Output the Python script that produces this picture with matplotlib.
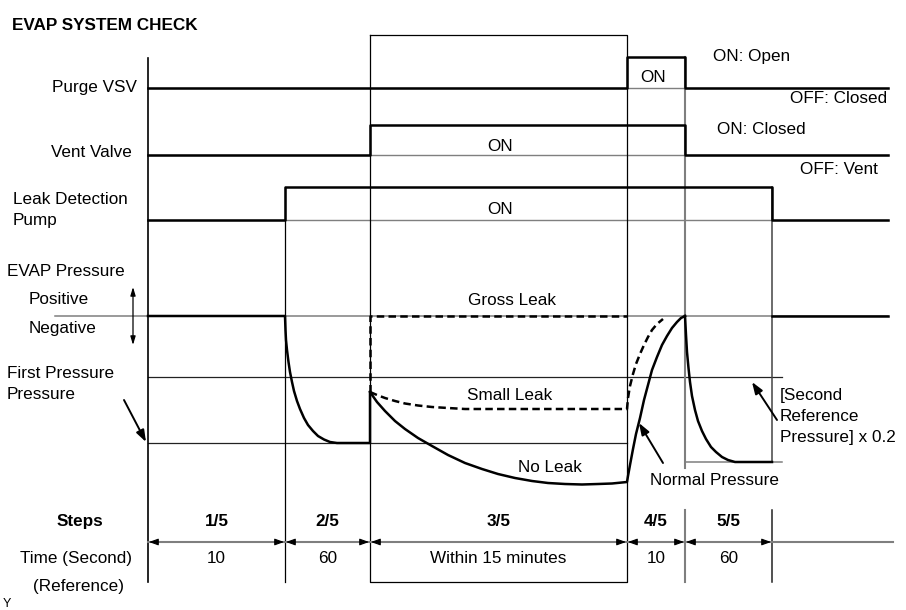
import matplotlib
matplotlib.use('Agg')
import matplotlib.pyplot as plt
from matplotlib import font_manager

# Diagram is laid out in page units (1 unit = 1 px of the 906x610 sheet, y downwards)

# step boundaries along the time axis, and what each step is
step_edges = [148, 285, 370, 627, 685, 772]
step_names = ['1/5', '2/5', '3/5', '4/5', '5/5']
step_times = ['10', '60', 'Within 15 minutes', '10', '60']
trace_end = 888

# ON/OFF state of each valve per step (+ the trailing segment after step 5)
purge_state = [0, 0, 0, 1, 0, 0]
vent_state = [0, 0, 1, 1, 0, 0]
pump_state = [0, 1, 1, 1, 1, 0]

# (OFF level, ON level) of each row
purge_levels = (88, 57)
vent_levels = (155, 125)
pump_levels = (220, 187)

# pressure levels
p_atm = 316          # positive / negative border
p_first = 377        # first reference line
p_ref = 443          # reference pressure
p_second = 462       # second reference x 0.2

# pressure traces
step2_x = [148, 285, 285, 285.5, 286, 287, 288.5, 290, 292, 294, 297, 300, 304,
           308, 313, 318, 324, 330, 337, 370, 370]
step2_y = [316, 316, 316, 330, 340, 350, 362, 372, 382, 391, 401, 409, 418,
           425, 431, 436, 439.5, 442, 443, 443, 392]

noleak_x = [370, 377, 385, 395, 405, 418, 432, 448, 465, 482, 498, 515, 532,
            548, 565, 582, 598, 612, 627,
            628, 630, 633, 636, 640, 644, 648, 652, 657, 662, 667, 672, 677,
            681, 685]
noleak_y = [392, 402, 411, 421, 429, 438, 446, 455, 463, 469, 474, 478, 481,
            483, 484, 484.5, 484, 483.5, 482,
            476, 465, 449, 434, 418, 400, 385, 370, 357, 345, 336, 328, 322,
            318, 316]

step5_x = [685, 686, 687, 688.5, 690, 692, 695, 698, 702, 706, 711, 716, 722,
           728, 735, 772]
step5_y = [316, 335, 352, 368, 382, 396, 410, 421, 431, 439, 447, 452, 457,
           460, 462, 462]
after_x = [772, 888]
after_y = [316, 316]

smallleak_x = [370, 377, 385, 395, 405, 418, 432, 448, 465, 627,
               628, 630, 633, 636, 640, 644, 648, 652, 657, 663]
smallleak_y = [392, 395, 398, 401, 403.5, 405.5, 407, 408, 409, 409,
               398, 386, 374, 364, 354, 345, 337, 330, 324, 319]

grossleak_x = [370, 370, 627]
grossleak_y = [392, 316, 316]

names = {f.name for f in font_manager.fontManager.ttflist}
FONT = 'Liberation Sans' if 'Liberation Sans' in names else 'DejaVu Sans'
plt.rcParams['font.family'] = FONT
FS = 12.3

fig = plt.figure(figsize=(9.06, 6.10), dpi=100)
ax = fig.add_axes([0, 0, 1, 1])
ax.set_xlim(0, 906)
ax.set_ylim(610, 0)
ax.axis('off')

K = 'black'
G = '#7f7f7f'
THICK = 1.8
THIN = 0.9

# --- grid / reference lines ---
for lv in (purge_levels[0], vent_levels[0], pump_levels[0]):
    ax.plot([step_edges[0], trace_end], [lv, lv], color=G, lw=1.0)
ax.plot([55, trace_end], [p_atm, p_atm], color=G, lw=1.1)
ax.plot([step_edges[0], 782], [p_first, p_first], color='#222', lw=THIN)
ax.plot([step_edges[0], step_edges[3]], [p_ref, p_ref], color='#222', lw=THIN)
ax.plot([step_edges[4], 782], [p_second, p_second], color=G, lw=1.1)

# vertical step lines
ax.plot([148, 148], [58, 582], color=K, lw=1.2)
ax.plot([285, 285], [187, 582], color=K, lw=THIN)
ax.plot([370, 627, 627, 370, 370], [35, 35, 582, 582, 35], color=K, lw=THIN)
ax.plot([685, 685], [57, 468], color=G, lw=1.5)
ax.plot([685, 685], [510, 582], color=G, lw=1.5)
ax.plot([772, 772], [187, 462], color='#444', lw=1.1)
ax.plot([772, 772], [510, 582], color='#222', lw=1.1)

# --- ON/OFF signals ---
xs = step_edges + [trace_end]
for st, (lo, hi) in ((purge_state, purge_levels), (vent_state, vent_levels),
                     (pump_state, pump_levels)):
    ys = [hi if s else lo for s in st]
    ax.step(xs, ys + [ys[-1]], where='post', color=K, lw=THICK)

# --- pressure traces ---
sty = dict(color=K, lw=THICK, solid_joinstyle='round', dash_joinstyle='round')
ax.plot(step2_x, step2_y, **sty)
ax.plot(noleak_x, noleak_y, **sty)
ax.plot(step5_x, step5_y, **sty)
ax.plot(after_x, after_y, **sty)
dash = (0, (3.0, 1.7))
ax.plot(smallleak_x, smallleak_y, linestyle=dash, **sty)
ax.plot(grossleak_x, grossleak_y, linestyle=dash, **sty)

# --- text ---
def txt(x, y, s, ha='left', **kw):
    ax.text(x, y, s, ha=ha, va='baseline', fontsize=kw.pop('fontsize', FS), **kw)

txt(12, 30, 'EVAP SYSTEM CHECK', fontweight='bold')
txt(137, 92, 'Purge VSV', ha='right')
txt(51, 157, 'Vent Valve')
txt(13, 204, 'Leak Detection')
txt(13, 225, 'Pump')
txt(7, 276, 'EVAP Pressure')
txt(29, 304, 'Positive')
txt(29, 333, 'Negative')
txt(7, 378, 'First Pressure')
txt(7, 399, 'Pressure')

txt(653, 82, 'ON', ha='center')
txt(713, 61, 'ON: Open')
txt(887, 103, 'OFF: Closed', ha='right')
txt(717, 134, 'ON: Closed')
txt(878, 174, 'OFF: Vent', ha='right')
txt(500, 151, 'ON', ha='center')
txt(500, 214, 'ON', ha='center')

txt(512, 305, 'Gross Leak', ha='center')
txt(510, 400, 'Small Leak', ha='center')
txt(550, 472, 'No Leak', ha='center')
txt(715, 485, 'Normal Pressure', ha='center')
txt(780, 400, '[Second')
txt(780, 421, 'Reference')
txt(780, 442, 'Pressure] x 0.2')

# annotation arrows
arr = dict(arrowstyle='-|>,head_length=0.7,head_width=0.25', color=K, lw=1.4,
           shrinkA=0, shrinkB=0)
ax.annotate('', xy=(146, 442), xytext=(124, 400), arrowprops=arr)
ax.annotate('', xy=(639, 423), xytext=(663, 463), arrowprops=arr)
ax.annotate('', xy=(752, 382), xytext=(777, 420), arrowprops=arr)
ax.annotate('', xy=(133, 287), xytext=(133, 345),
            arrowprops=dict(arrowstyle='<|-|>,head_length=0.5,head_width=0.15',
                            color=K, lw=0.9, shrinkA=0, shrinkB=0))

# --- steps table ---
row_y = 542
ax.plot([step_edges[0], 893], [row_y, row_y], color=G, lw=1.5)
head = dict(arrowstyle='-|>,head_length=0.55,head_width=0.2', color=K, lw=0.8,
            shrinkA=0, shrinkB=0)
for a, b in zip(step_edges[:-1], step_edges[1:]):
    ax.annotate('', xy=(a + 1, row_y), xytext=(a + 10, row_y), arrowprops=head)
    ax.annotate('', xy=(b - 1, row_y), xytext=(b - 10, row_y), arrowprops=head)

txt(80, 526, 'Steps', ha='center', fontweight='bold')
txt(76, 563, 'Time (Second)', ha='center')
txt(78, 591, '(Reference)', ha='center')
for a, b, n, t in zip(step_edges[:-1], step_edges[1:], step_names, step_times):
    c = (a + b) / 2
    txt(c, 526, n, ha='center', fontweight='bold')
    txt(c, 563, t, ha='center')

txt(3, 607, 'Y', fontsize=9)

fig.savefig('out.png', dpi=100)
